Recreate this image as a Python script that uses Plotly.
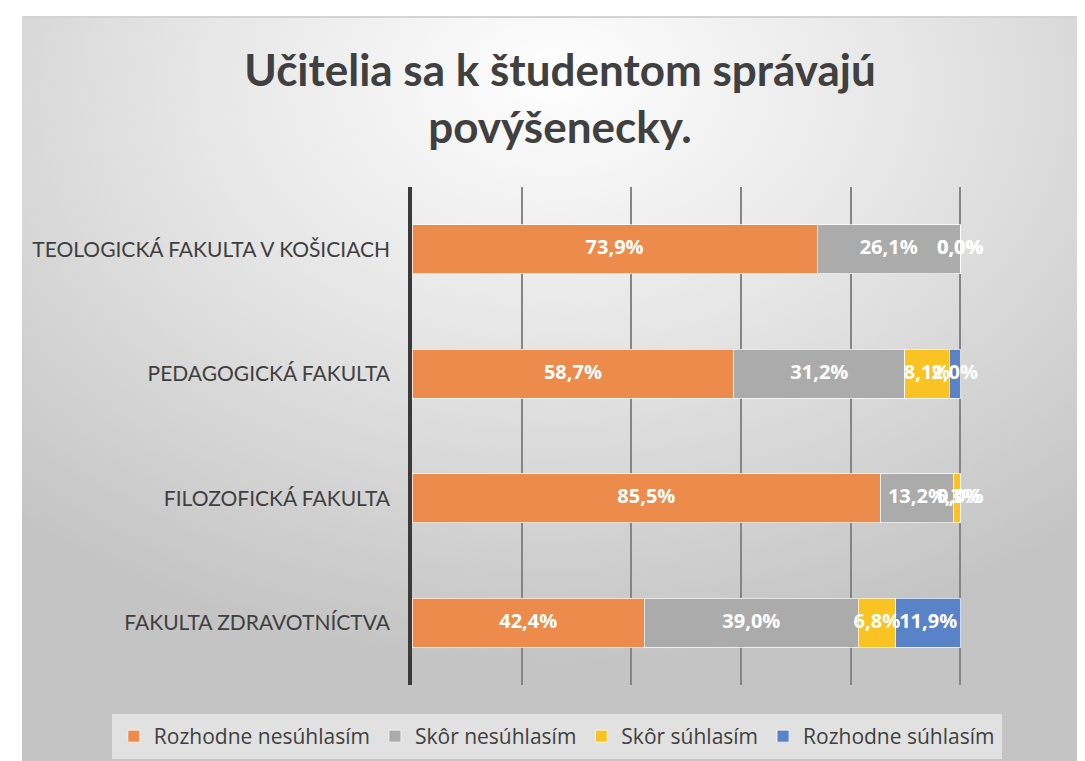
import base64
import plotly.graph_objects as go

categories = ["TEOLOGICKÁ FAKULTA V KOŠICIACH", "PEDAGOGICKÁ FAKULTA",
              "FILOZOFICKÁ FAKULTA", "FAKULTA ZDRAVOTNÍCTVA"]
series_names = ["Rozhodne nesúhlasím", "Skôr nesúhlasím", "Skôr súhlasím", "Rozhodne súhlasím"]
rozhodne_nesuhlasim = [73.9, 58.7, 85.5, 42.4]
skor_nesuhlasim = [26.1, 31.2, 13.2, 39.0]
skor_suhlasim = [0.0, 8.1, 1.3, 6.8]
rozhodne_suhlasim = [0.0, 2.0, 0.0, 11.9]
title_text = "Učitelia sa k študentom správajú<br>povýšenecky."

series_values = [rozhodne_nesuhlasim, skor_nesuhlasim, skor_suhlasim, rozhodne_suhlasim]
colors = ["#EC8B4C", "#ABABAB", "#F9C423", "#5A82C9"]
FONT = "Lato"
FONT2 = "Open Sans"

fig = go.Figure()
for name, vals, col in zip(series_names, series_values, colors):
    fig.add_trace(go.Bar(
        y=categories, x=vals, name=name, orientation="h",
        marker=dict(color=col, line=dict(color="rgba(255,255,255,0.7)", width=1)),
        hoverinfo="skip",
    ))

# data labels centred on each segment
base = [0.0] * len(categories)
for vals in series_values:
    mids = [b + v / 2 for b, v in zip(base, vals)]
    labels = [f"{v:.1f}%".replace(".", ",") for v in vals]
    fig.add_trace(go.Scatter(
        x=mids, y=categories, mode="text", text=labels, cliponaxis=False,
        textfont=dict(family=FONT2, size=20, color="white", weight="bold"),
        textposition="middle center", showlegend=False, hoverinfo="skip",
    ))
    base = [b + v for b, v in zip(base, vals)]

svg = """<svg xmlns='http://www.w3.org/2000/svg' width='1063' height='745' preserveAspectRatio='none'>
<defs><radialGradient id='g' cx='0.5' cy='0.12' r='0.75' fx='0.5' fy='0.08'>
<stop offset='0' stop-color='#fefefe'/><stop offset='0.45' stop-color='#e6e6e6'/>
<stop offset='1' stop-color='#c4c4c4'/></radialGradient></defs>
<rect x='0' y='0' width='1063' height='745' fill='url(#g)'/>
<rect x='0' y='0' width='1063' height='2' fill='#d4d4d4'/>
</svg>"""
src = "data:image/svg+xml;base64," + base64.b64encode(svg.encode()).decode()

# page body has an 8px margin, so the figure is drawn 8px smaller and offset
OFF = 8
XMAX = 100.5  # a little past 100 so the 100% gridline is drawn
W, H = 1085 - OFF, 761 - OFF
L, T = 412 - OFF, 187 - OFF
right_px = 412 + (960 - 412) * XMAX / 100
R = W - (right_px - OFF)
B = H - (685 - OFF)
pw, ph = W - L - R, H - T - B

def px_x(p):  # screenshot pixel -> paper x
    return (p - 412) / pw

def px_y(p):  # screenshot pixel -> paper y
    return (685 - p) / ph

fig.update_layout(
    width=W, height=H, barmode="stack", bargap=0.61,
    margin=dict(l=L, r=R, t=T, b=B, autoexpand=False),
    paper_bgcolor="white", plot_bgcolor="rgba(0,0,0,0)",
    font=dict(family=FONT, color="#404040"),
    title=dict(text=title_text, x=(560 - OFF) / W, xanchor="center", y=1 - 78 / H, yanchor="middle",
               font=dict(family=FONT, size=44, color="#404040", weight="bold")),
    xaxis=dict(range=[0, XMAX], tickvals=[20, 40, 60, 80, 100], showgrid=True,
               gridcolor="#858585", gridwidth=1.5,
               showticklabels=False, zeroline=False, showline=False, fixedrange=True),
    yaxis=dict(autorange="reversed", showgrid=False, ticks="", ticklabelstandoff=14,
               tickfont=dict(family=FONT, size=21, color="#404040"),
               showline=True, linecolor="#3a3a3a", linewidth=3.5),
    legend=dict(orientation="h", xref="paper", yref="paper",
                x=px_x(110), xanchor="left", y=px_y(712), yanchor="top",
                bgcolor="rgba(232,232,232,0.8)", bordercolor="rgba(232,232,232,0)", borderwidth=4,
                font=dict(family=FONT2, size=21, color="#404040"),
                itemwidth=30, traceorder="normal"),
    images=[dict(source=src, xref="paper", yref="paper",
                 x=px_x(22), y=px_y(16), sizex=(1085 - 22) / pw, sizey=(761 - 16) / ph,
                 xanchor="left", yanchor="top", sizing="stretch", layer="below")],
)

fig.write_html("out.html")
